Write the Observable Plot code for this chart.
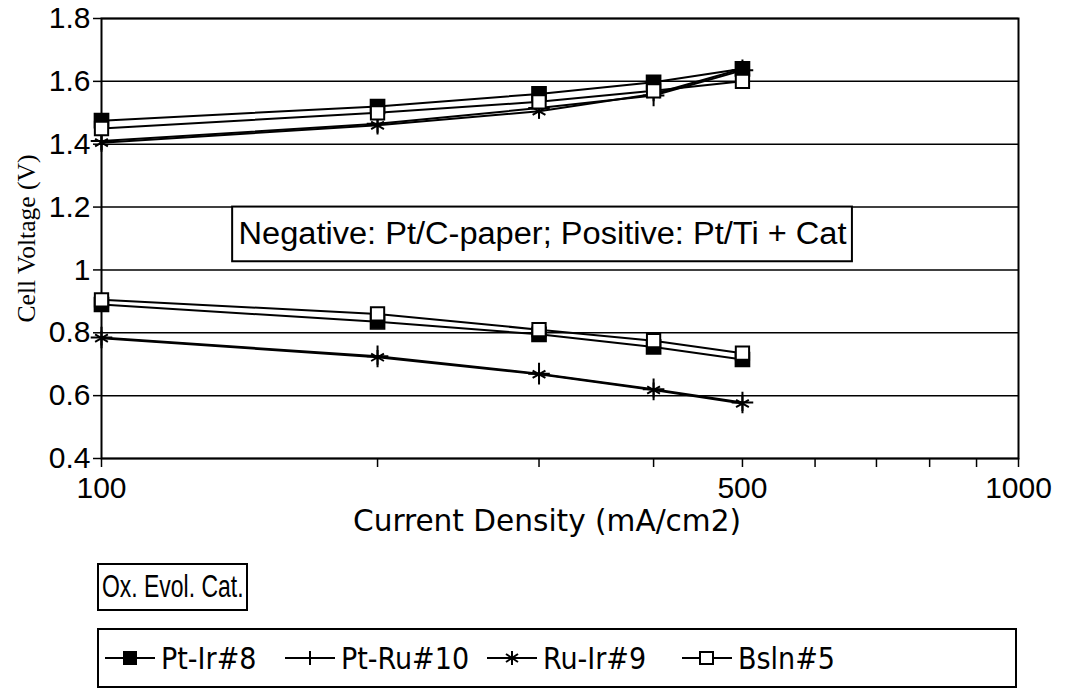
<!DOCTYPE html>
<html>
<head>
<meta charset="utf-8">
<script src="https://cdn.jsdelivr.net/npm/d3@7"></script>
<script src="https://cdn.jsdelivr.net/npm/@observablehq/plot@0.6"></script>
<style>
  html, body { margin: 0; padding: 0; background: white; }
  #wrap { position: relative; width: 1068px; height: 692px; background: white; }
  #oxbox { position: absolute; left: 97px; top: 563px; width: 144px; height: 44px;
    border: 2px solid black; font-family: "Liberation Sans", Arial, sans-serif; font-size: 31px;
    line-height: 44px; padding-left: 3px; box-sizing: content-box; white-space: nowrap; overflow: hidden; }
  #oxbox span { display: inline-block; transform: scaleX(0.74); transform-origin: left center; }
  #legend { position: absolute; left: 97px; top: 628px; width: 916px; height: 56px;
    border: 2px solid black; font-family: "DejaVu Sans Condensed", sans-serif; font-size: 30px; }
  .item { position: absolute; top: 0; height: 56px; display: flex; align-items: center; white-space: nowrap; }
  .item svg { margin-right: 6px; }
</style>
</head>
<body>
<div id="wrap">
  <div id="chart"></div>
  <div id="oxbox"><span>Ox. Evol. Cat.</span></div>
  <div id="legend"></div>
</div>
<script>
// ---- data ----
const currentDensity = [100, 200, 300, 400, 500];
const seriesNames = ["Pt-Ir#8", "Pt-Ru#10", "Ru-Ir#9", "Bsln#5"];
// electrolysis (upper) branch
const ptIrUpper   = [1.475, 1.52, 1.56, 1.597, 1.64];
const ptRuUpper   = [1.41, 1.465, 1.515, 1.555, 1.635];
const ruIrUpper   = [1.405, 1.46, 1.505, 1.56, 1.64];
const bslnUpper   = [1.45, 1.50, 1.535, 1.57, 1.60];
// fuel cell (lower) branch
const ptIrLower   = [0.89, 0.835, 0.795, 0.755, 0.715];
const ptRuLower   = [0.785, 0.725, 0.67, 0.62, 0.578];
const ruIrLower   = [0.783, 0.722, 0.668, 0.618, 0.575];
const bslnLower   = [0.905, 0.86, 0.81, 0.775, 0.735];
const yTicks = [0.4, 0.6, 0.8, 1, 1.2, 1.4, 1.6, 1.8];
const xTicks = [100, 200, 300, 400, 500, 600, 700, 800, 900, 1000];
const xTickLabels = [100, 500, 1000];
const annotation = "Negative: Pt/C-paper; Positive: Pt/Ti + Cat";
const boxX = [139, 659];
const boxY = [1.026, 1.2];

const upper = [ptIrUpper, ptRuUpper, ruIrUpper, bslnUpper];
const lower = [ptIrLower, ptRuLower, ruIrLower, bslnLower];
const rows = [];
seriesNames.forEach((s, i) => {
  currentDensity.forEach((x, j) => {
    rows.push({series: s, branch: "upper", x, y: upper[i][j]});
    rows.push({series: s, branch: "lower", x, y: lower[i][j]});
  });
});
const bySeries = s => rows.filter(d => d.series === s);

const chart = Plot.plot({
  width: 1068,
  height: 548,
  marginLeft: 101,
  marginRight: 50,
  marginTop: 18,
  marginBottom: 90,
  x: {type: "log", domain: [100, 1000]},
  y: {domain: [0.4, 1.8]},
  style: {fontFamily: "'Liberation Sans', Arial, sans-serif", fontSize: "30px", color: "black", background: "white"},
  marks: [
    Plot.gridY(yTicks, {stroke: "black", strokeOpacity: 1, strokeWidth: 1.5}),
    Plot.frame({stroke: "black", strokeWidth: 2}),
    Plot.axisY(yTicks, {tickFormat: d => String(d), tickSize: 8, tickPadding: 3, label: null, strokeWidth: 1.5}),
    Plot.axisX(xTicks, {tickFormat: d => xTickLabels.includes(d) ? String(d) : "", tickSize: 9, tickPadding: 9, label: null, strokeWidth: 1.5}),
    Plot.text(["Cell Voltage (V)"], {frameAnchor: "left", textAnchor: "middle", rotate: -90, dx: -75, fill: "black", fontFamily: "'Liberation Serif', serif", fontSize: 26, className: "ylab"}),
    Plot.text(["Current Density (mA/cm2)"], {frameAnchor: "bottom", dy: 72, dx: -13, fill: "black", fontFamily: "'DejaVu Sans Condensed', sans-serif", fontSize: 30, className: "xlab"}),
    Plot.rect([0], {x1: boxX[0], x2: boxX[1], y1: boxY[0], y2: boxY[1], fill: "white", stroke: "black", strokeWidth: 2}),
    Plot.text([annotation], {x: Math.sqrt(boxX[0] * boxX[1]), y: (boxY[0] + boxY[1]) / 2, fill: "black", fontSize: 31, fontFamily: "'Liberation Sans', Arial, sans-serif", className: "annot"}),
    Plot.line(rows, {x: "x", y: "y", z: d => d.series + d.branch, stroke: "black", strokeWidth: 2}),
    Plot.dot(bySeries("Pt-Ru#10"), {x: "x", y: "y", symbol: "plus", r: 7, stroke: "black", strokeWidth: 2}),
    Plot.dot(bySeries("Ru-Ir#9"), {x: "x", y: "y", symbol: "asterisk", r: 7, stroke: "black", strokeWidth: 2}),
    Plot.dot(bySeries("Pt-Ir#8"), {x: "x", y: "y", symbol: "square", r: 8, fill: "black", stroke: "black"}),
    Plot.dot(bySeries("Bsln#5"), {x: "x", y: "y", symbol: "square", r: 7.5, fill: "white", stroke: "black", strokeWidth: 2})
  ]
});
document.getElementById("chart").appendChild(chart);
// stretch text widths to match the original typesetting
function fit(cls, len) {
  chart.querySelectorAll("g." + cls + " text").forEach(t => {
    t.setAttribute("textLength", len);
    t.setAttribute("lengthAdjust", "spacingAndGlyphs");
  });
}
fit("annot", 608);
fit("xlab", 388);
fit("ylab", 168);

// ---- legend ----
const legendItems = [
  {name: seriesNames[0], left: 6, symbol: "filled"},
  {name: seriesNames[1], left: 186, symbol: "plus"},
  {name: seriesNames[2], left: 388, symbol: "asterisk"},
  {name: seriesNames[3], left: 583, symbol: "open"}
];
const legend = document.getElementById("legend");
legendItems.forEach(it => {
  const div = document.createElement("div");
  div.className = "item";
  div.style.left = it.left + "px";
  let sym = "";
  if (it.symbol === "filled") sym = '<rect x="18" y="12" width="14" height="14" fill="black"/>';
  if (it.symbol === "open") sym = '<rect x="18" y="13" width="13" height="12" fill="white" stroke="black" stroke-width="2"/>';
  if (it.symbol === "plus") sym = '<line x1="25" y1="12" x2="25" y2="26" stroke="black" stroke-width="2"/>';
  if (it.symbol === "asterisk") sym = '<path d="M25,12V26M19,15L31,23M19,23L31,15" stroke="black" stroke-width="2"/>';
  div.innerHTML = '<svg width="50" height="38"><line x1="0" y1="19" x2="50" y2="19" stroke="black" stroke-width="2"/>' + sym + '</svg><span>' + it.name + '</span>';
  legend.appendChild(div);
});
</script>
</body>
</html>
